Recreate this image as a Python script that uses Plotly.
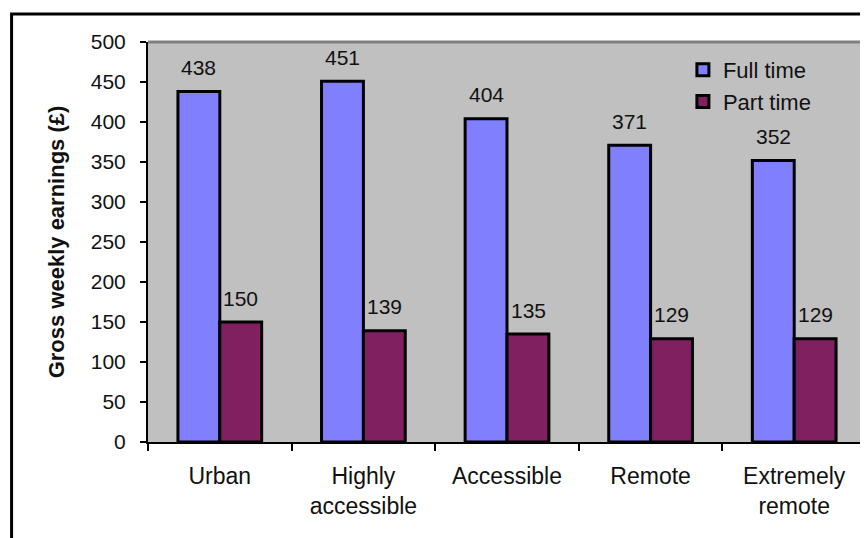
from plotly import graph_objects as go

# data
areas = ["Urban", "Highly<br>accessible", "Accessible", "Remote", "Extremely<br>remote"]
full_time = [438, 451, 404, 371, 352]
part_time = [150, 139, 135, 129, 129]
y_ticks = list(range(0, 501, 50))

FONT = "Liberation Sans, Arial, sans-serif"
BAR_LINE = dict(color="black", width=3)

fig = go.Figure()
fig.add_trace(go.Bar(x=areas, y=full_time, name="Full time",
                     marker=dict(color="#8080FF", line=BAR_LINE)))
fig.add_trace(go.Bar(x=areas, y=part_time, name="Part time",
                     marker=dict(color="#802060", line=BAR_LINE)))

# value labels above each bar
annotations = []
for shift, vals in ((-21, full_time), (21, part_time)):
    for cat, v in zip(areas, vals):
        annotations.append(dict(x=cat, y=v, xref="x", yref="y", text=str(v),
                                showarrow=False, xshift=shift, yshift=24,
                                yanchor="middle",
                                font=dict(size=21, color="#111", family=FONT)))

# page body has an 8px margin, so the figure is a bit smaller than the window
fig.update_layout(
    width=860, height=530,
    margin=dict(l=140, r=2, t=34, b=96),
    paper_bgcolor="white",
    plot_bgcolor="#C0C0C0",
    font=dict(family=FONT, size=21, color="#111"),
    barmode="group",
    bargap=0.417,
    bargroupgap=0,
    showlegend=True,
    legend=dict(x=0.745, y=0.9825, xanchor="left", yanchor="top",
                bgcolor="rgba(0,0,0,0)", font=dict(size=22),
                traceorder="normal"),
    annotations=annotations,
    shapes=[
        # outer chart frame
        dict(type="rect", xref="paper", yref="paper", x0=-0.19, x1=1.05,
             y0=-0.4, y1=1.07, line=dict(color="black", width=3), layer="below"),
        # grey border on top and right of plot area
        dict(type="line", xref="paper", yref="paper", x0=0, x1=1, y0=1, y1=1,
             line=dict(color="#808080", width=3)),
        dict(type="line", xref="paper", yref="paper", x0=1, x1=1, y0=0, y1=1,
             line=dict(color="#808080", width=3)),
    ],
)
fig.update_xaxes(showline=True, linecolor="black", linewidth=2,
                 ticks="outside", ticklen=7, tickwidth=2, tickcolor="black",
                 tickson="boundaries", showgrid=False, ticklabelstandoff=12,
                 tickfont=dict(size=23))
fig.update_yaxes(range=[0, 500], tickvals=y_ticks, showline=True,
                 linecolor="black", linewidth=2, ticks="outside", ticklen=6,
                 tickwidth=2, tickcolor="black", showgrid=False, zeroline=False,
                 ticklabelstandoff=10, tickfont=dict(size=21),
                 title=dict(text="<b>Gross weekly earnings (£)</b>",
                            font=dict(size=22), standoff=20))

fig.write_html("out.html")
